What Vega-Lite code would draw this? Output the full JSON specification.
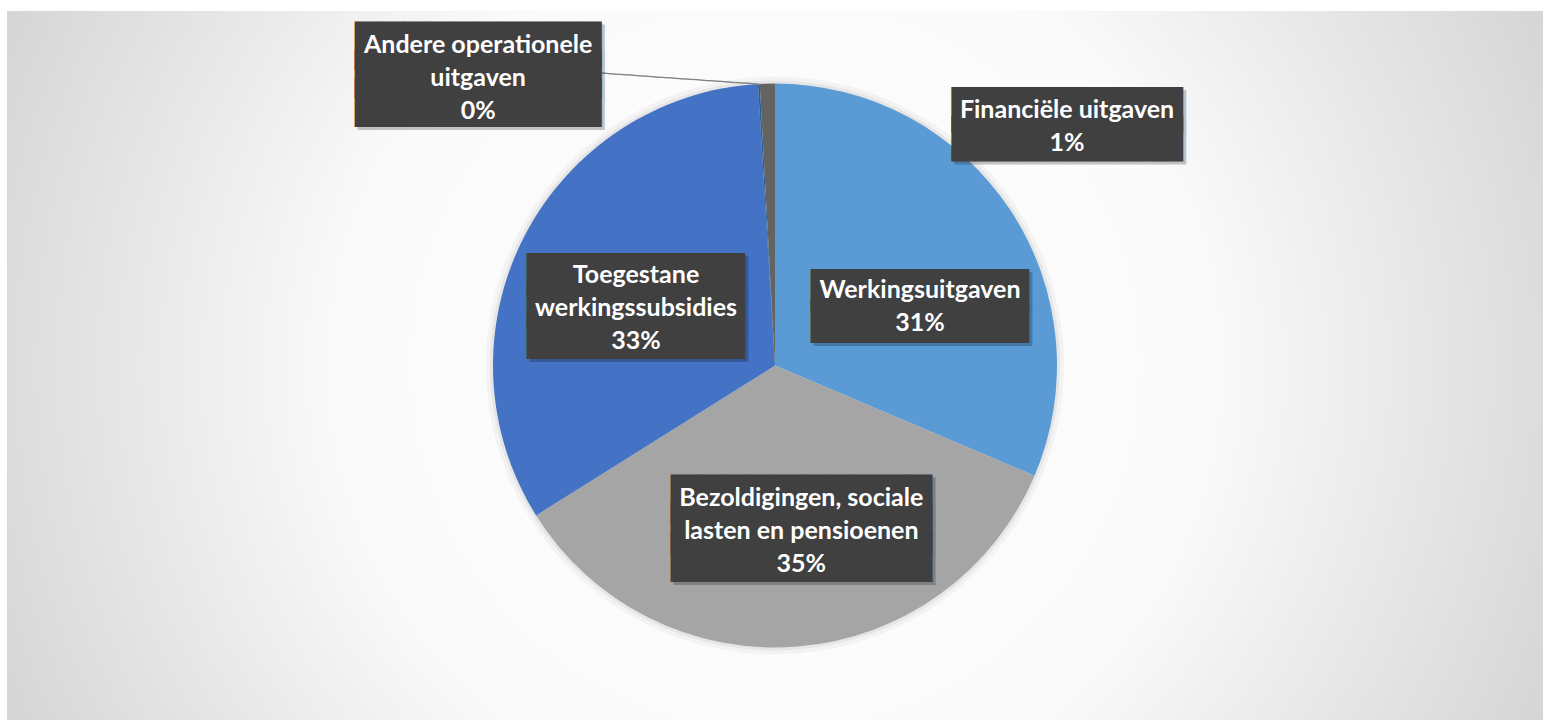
{
  "$schema": "https://vega.github.io/schema/vega-lite/v6.json",
  "width": 1536,
  "height": 709,
  "autosize": {"type": "none"},
  "padding": {"left": 7, "top": 11, "right": 3, "bottom": 0},
  "background": "#ffffff",
  "view": {
    "stroke": null,
    "fill": {
      "gradient": "radial",
      "x1": 0.5, "y1": 0.5, "r1": 0,
      "x2": 0.5, "y2": 0.5, "r2": 0.71,
      "stops": [
        {"offset": 0, "color": "#ffffff"},
        {"offset": 0.4, "color": "#fafafa"},
        {"offset": 1, "color": "#bfbfbf"}
      ]
    }
  },
  "data": {
    "values": [
      {"uitgave": "Werkingsuitgaven", "aandeel": 31.4, "label": "Werkingsuitgaven\n31%"},
      {"uitgave": "Bezoldigingen, sociale lasten en pensioenen", "aandeel": 34.7, "label": "Bezoldigingen, sociale\nlasten en pensioenen\n35%"},
      {"uitgave": "Toegestane werkingssubsidies", "aandeel": 32.97, "label": "Toegestane\nwerkingssubsidies\n33%"},
      {"uitgave": "Andere operationele uitgaven", "aandeel": 0.1, "label": "Andere operationele\nuitgaven\n0%"},
      {"uitgave": "Financiële uitgaven", "aandeel": 0.86, "label": "Financiële uitgaven\n1%"}
    ]
  },
  "transform": [{"window": [{"op": "row_number", "as": "volgorde"}]}],
  "layer": [
    {
      "mark": {"type": "arc", "outerRadius": 289, "color": "#000000", "opacity": 0.035},
      "encoding": {
        "theta": {"field": "aandeel", "type": "quantitative", "stack": true},
        "order": {"field": "volgorde", "type": "quantitative"},
        "detail": {"field": "uitgave", "type": "nominal"}
      }
    },
    {
      "mark": {"type": "arc", "outerRadius": 285, "color": "#000000", "opacity": 0.05},
      "encoding": {
        "theta": {"field": "aandeel", "type": "quantitative", "stack": true},
        "order": {"field": "volgorde", "type": "quantitative"},
        "detail": {"field": "uitgave", "type": "nominal"}
      }
    },
    {
      "mark": {"type": "arc", "outerRadius": 282},
      "encoding": {
        "theta": {"field": "aandeel", "type": "quantitative", "stack": true},
        "order": {"field": "volgorde", "type": "quantitative"},
        "detail": {"field": "uitgave", "type": "nominal"},
        "color": {
          "field": "uitgave", "type": "nominal", "legend": null,
          "scale": {
            "domain": ["Werkingsuitgaven", "Bezoldigingen, sociale lasten en pensioenen", "Toegestane werkingssubsidies", "Andere operationele uitgaven", "Financiële uitgaven"],
            "range": ["#5B9BD5", "#A5A5A5", "#4472C4", "#255E91", "#636363"]
          }
        }
      }
    },
    {
      "mark": {"type": "text", "font": "DejaVu Sans Mono", "fontSize": 14, "color": "#808080", "angle": 4, "radius": 290, "dx": -77.4, "dy": 8.9, "align": "center", "baseline": "middle"},
      "encoding": {
        "theta": {"field": "aandeel", "type": "quantitative", "stack": true},
        "order": {"field": "volgorde", "type": "quantitative"},
        "detail": {"field": "uitgave", "type": "nominal"},
        "text": {"condition": {"test": "datum.uitgave === 'Andere operationele uitgaven'", "value": "───────────────────"}, "value": ""}
      }
    },
    {
      "mark": {"type": "text", "font": "DejaVu Sans Mono", "fontSize": 36.2, "lineHeight": 30.9, "color": "#000000", "opacity": 0.22, "radius": 152.8, "dx": 20.6, "dy": 13.55, "align": "center", "baseline": "middle"},
      "encoding": {
        "theta": {"field": "aandeel", "type": "quantitative", "stack": true},
        "order": {"field": "volgorde", "type": "quantitative"},
        "detail": {"field": "uitgave", "type": "nominal"},
        "text": {"condition": {"test": "datum.uitgave === 'Werkingsuitgaven'", "value": ["██████████", "██████████"]}, "value": ""}
      }
    },
    {
      "mark": {"type": "text", "font": "DejaVu Sans Mono", "fontSize": 43.4, "lineHeight": 27.75, "color": "#000000", "opacity": 0.22, "radius": 164.1, "dx": 16.3, "dy": -23.85, "align": "center", "baseline": "middle"},
      "encoding": {
        "theta": {"field": "aandeel", "type": "quantitative", "stack": true},
        "order": {"field": "volgorde", "type": "quantitative"},
        "detail": {"field": "uitgave", "type": "nominal"},
        "text": {"condition": {"test": "datum.uitgave === 'Bezoldigingen, sociale lasten en pensioenen'", "value": ["██████████", "██████████", "██████████"]}, "value": ""}
      }
    },
    {
      "mark": {"type": "text", "font": "DejaVu Sans Mono", "fontSize": 36.2, "lineHeight": 31.45, "color": "#000000", "opacity": 0.22, "radius": 151, "dx": -1.7, "dy": -17.75, "align": "center", "baseline": "middle"},
      "encoding": {
        "theta": {"field": "aandeel", "type": "quantitative", "stack": true},
        "order": {"field": "volgorde", "type": "quantitative"},
        "detail": {"field": "uitgave", "type": "nominal"},
        "text": {"condition": {"test": "datum.uitgave === 'Toegestane werkingssubsidies'", "value": ["██████████", "██████████", "██████████"]}, "value": ""}
      }
    },
    {
      "mark": {"type": "text", "font": "DejaVu Sans Mono", "fontSize": 40.9, "lineHeight": 28.7, "color": "#000000", "opacity": 0.22, "radius": 300, "dx": -276.7, "dy": -15.3, "align": "center", "baseline": "middle"},
      "encoding": {
        "theta": {"field": "aandeel", "type": "quantitative", "stack": true},
        "order": {"field": "volgorde", "type": "quantitative"},
        "detail": {"field": "uitgave", "type": "nominal"},
        "text": {"condition": {"test": "datum.uitgave === 'Andere operationele uitgaven'", "value": ["██████████", "██████████", "██████████"]}, "value": ""}
      }
    },
    {
      "mark": {"type": "text", "font": "DejaVu Sans Mono", "fontSize": 38.4, "lineHeight": 29.3, "color": "#000000", "opacity": 0.22, "radius": 250, "dx": 301.8, "dy": -1.45, "align": "center", "baseline": "middle"},
      "encoding": {
        "theta": {"field": "aandeel", "type": "quantitative", "stack": true},
        "order": {"field": "volgorde", "type": "quantitative"},
        "detail": {"field": "uitgave", "type": "nominal"},
        "text": {"condition": {"test": "datum.uitgave === 'Financiële uitgaven'", "value": ["██████████", "██████████"]}, "value": ""}
      }
    },
    {
      "mark": {"type": "text", "font": "DejaVu Sans Mono", "fontSize": 36.2, "lineHeight": 30.9, "color": "#404040", "radius": 152.8, "dx": 17.6, "dy": 10.55, "align": "center", "baseline": "middle"},
      "encoding": {
        "theta": {"field": "aandeel", "type": "quantitative", "stack": true},
        "order": {"field": "volgorde", "type": "quantitative"},
        "detail": {"field": "uitgave", "type": "nominal"},
        "text": {"condition": {"test": "datum.uitgave === 'Werkingsuitgaven'", "value": ["██████████", "██████████"]}, "value": ""}
      }
    },
    {
      "mark": {"type": "text", "font": "DejaVu Sans Mono", "fontSize": 43.4, "lineHeight": 27.75, "color": "#404040", "radius": 164.1, "dx": 13.3, "dy": -26.85, "align": "center", "baseline": "middle"},
      "encoding": {
        "theta": {"field": "aandeel", "type": "quantitative", "stack": true},
        "order": {"field": "volgorde", "type": "quantitative"},
        "detail": {"field": "uitgave", "type": "nominal"},
        "text": {"condition": {"test": "datum.uitgave === 'Bezoldigingen, sociale lasten en pensioenen'", "value": ["██████████", "██████████", "██████████"]}, "value": ""}
      }
    },
    {
      "mark": {"type": "text", "font": "DejaVu Sans Mono", "fontSize": 36.2, "lineHeight": 31.45, "color": "#404040", "radius": 151, "dx": -4.7, "dy": -20.75, "align": "center", "baseline": "middle"},
      "encoding": {
        "theta": {"field": "aandeel", "type": "quantitative", "stack": true},
        "order": {"field": "volgorde", "type": "quantitative"},
        "detail": {"field": "uitgave", "type": "nominal"},
        "text": {"condition": {"test": "datum.uitgave === 'Toegestane werkingssubsidies'", "value": ["██████████", "██████████", "██████████"]}, "value": ""}
      }
    },
    {
      "mark": {"type": "text", "font": "DejaVu Sans Mono", "fontSize": 40.9, "lineHeight": 28.7, "color": "#404040", "radius": 300, "dx": -279.7, "dy": -18.3, "align": "center", "baseline": "middle"},
      "encoding": {
        "theta": {"field": "aandeel", "type": "quantitative", "stack": true},
        "order": {"field": "volgorde", "type": "quantitative"},
        "detail": {"field": "uitgave", "type": "nominal"},
        "text": {"condition": {"test": "datum.uitgave === 'Andere operationele uitgaven'", "value": ["██████████", "██████████", "██████████"]}, "value": ""}
      }
    },
    {
      "mark": {"type": "text", "font": "DejaVu Sans Mono", "fontSize": 38.4, "lineHeight": 29.3, "color": "#404040", "radius": 250, "dx": 298.8, "dy": -4.45, "align": "center", "baseline": "middle"},
      "encoding": {
        "theta": {"field": "aandeel", "type": "quantitative", "stack": true},
        "order": {"field": "volgorde", "type": "quantitative"},
        "detail": {"field": "uitgave", "type": "nominal"},
        "text": {"condition": {"test": "datum.uitgave === 'Financiële uitgaven'", "value": ["██████████", "██████████"]}, "value": ""}
      }
    },
    {
      "mark": {"type": "text", "font": "Lato", "fontWeight": "bold", "fontSize": 25, "lineHeight": 33, "lineBreak": "\n", "color": "#ffffff", "radius": 152.8, "dx": 17.6, "dy": 8.8, "align": "center", "baseline": "middle"},
      "encoding": {
        "theta": {"field": "aandeel", "type": "quantitative", "stack": true},
        "order": {"field": "volgorde", "type": "quantitative"},
        "detail": {"field": "uitgave", "type": "nominal"},
        "text": {"condition": {"test": "datum.uitgave === 'Werkingsuitgaven'", "field": "label", "type": "nominal"}, "value": ""}
      }
    },
    {
      "mark": {"type": "text", "font": "Lato", "fontWeight": "bold", "fontSize": 25, "lineHeight": 33, "lineBreak": "\n", "color": "#ffffff", "radius": 164.1, "dx": 13.3, "dy": -31.1, "align": "center", "baseline": "middle"},
      "encoding": {
        "theta": {"field": "aandeel", "type": "quantitative", "stack": true},
        "order": {"field": "volgorde", "type": "quantitative"},
        "detail": {"field": "uitgave", "type": "nominal"},
        "text": {"condition": {"test": "datum.uitgave === 'Bezoldigingen, sociale lasten en pensioenen'", "field": "label", "type": "nominal"}, "value": ""}
      }
    },
    {
      "mark": {"type": "text", "font": "Lato", "fontWeight": "bold", "fontSize": 25, "lineHeight": 33, "lineBreak": "\n", "color": "#ffffff", "radius": 151, "dx": -4.7, "dy": -21.0, "align": "center", "baseline": "middle"},
      "encoding": {
        "theta": {"field": "aandeel", "type": "quantitative", "stack": true},
        "order": {"field": "volgorde", "type": "quantitative"},
        "detail": {"field": "uitgave", "type": "nominal"},
        "text": {"condition": {"test": "datum.uitgave === 'Toegestane werkingssubsidies'", "field": "label", "type": "nominal"}, "value": ""}
      }
    },
    {
      "mark": {"type": "text", "font": "Lato", "fontWeight": "bold", "fontSize": 25, "lineHeight": 33, "lineBreak": "\n", "color": "#ffffff", "radius": 300, "dx": -279.7, "dy": -21.0, "align": "center", "baseline": "middle"},
      "encoding": {
        "theta": {"field": "aandeel", "type": "quantitative", "stack": true},
        "order": {"field": "volgorde", "type": "quantitative"},
        "detail": {"field": "uitgave", "type": "nominal"},
        "text": {"condition": {"test": "datum.uitgave === 'Andere operationele uitgaven'", "field": "label", "type": "nominal"}, "value": ""}
      }
    },
    {
      "mark": {"type": "text", "font": "Lato", "fontWeight": "bold", "fontSize": 25, "lineHeight": 33, "lineBreak": "\n", "color": "#ffffff", "radius": 250, "dx": 298.8, "dy": -5.6, "align": "center", "baseline": "middle"},
      "encoding": {
        "theta": {"field": "aandeel", "type": "quantitative", "stack": true},
        "order": {"field": "volgorde", "type": "quantitative"},
        "detail": {"field": "uitgave", "type": "nominal"},
        "text": {"condition": {"test": "datum.uitgave === 'Financiële uitgaven'", "field": "label", "type": "nominal"}, "value": ""}
      }
    }
  ]
}
